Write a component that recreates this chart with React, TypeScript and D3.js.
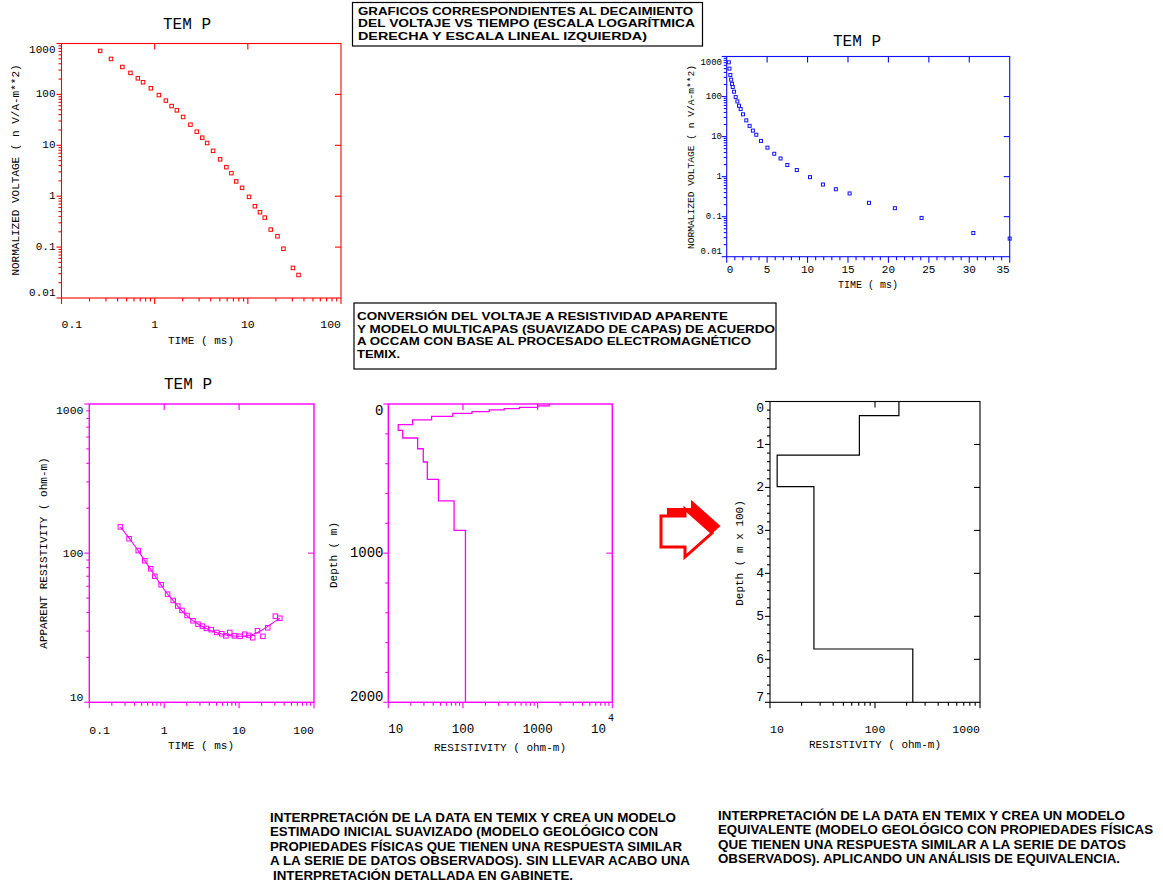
import * as d3 from 'd3';
import React, { useEffect, useRef } from 'react';

// sounding data (same gates for every panel)
const timeMs = [0.26, 0.34, 0.45, 0.55, 0.66, 0.75, 0.91, 1.11, 1.32, 1.52, 1.73, 2.02, 2.42, 2.83, 3.24, 3.66, 4.24, 5.04, 5.88, 6.66, 7.5, 8.67, 10.3, 11.9, 13.5, 15.2, 17.6, 20.8, 24.1, 30.5, 35.0];
const voltage = [715, 498, 346, 264, 207, 173, 132, 97, 75.5, 59, 48.6, 36, 25.4, 18.5, 14.1, 11.1, 7.8, 5.3, 3.72, 2.84, 1.95, 1.46, 0.97, 0.635, 0.484, 0.38, 0.221, 0.163, 0.093, 0.039, 0.0283];
const apparentRes = [150, 125, 104, 89, 78.6, 70, 61.4, 53.1, 48.2, 44.2, 41.3, 38.2, 35.2, 33.4, 32.4, 31.3, 30.7, 29.4, 28.8, 27.9, 29.4, 27.9, 27.7, 28.6, 28.1, 27.1, 30.2, 27.7, 31.6, 37.8, 36.6];
const apparentResFit = [150, 126, 104, 89, 78, 70.5, 61, 53, 48, 44, 41, 38, 35.3, 33.5, 32.2, 31.2, 30.2, 29.3, 28.7, 28.3, 28.0, 27.8, 27.7, 27.8, 28.1, 28.5, 29.4, 30.8, 32.3, 35, 36.6];

// occam smooth model (ohm-m, layer bottom in m)
const smoothRes = [1430, 1000, 570, 357, 225, 132, 73, 38, 21.2, 13.6, 15.6, 24.7, 29.4, 33.3, 47, 76, 108];
const smoothBottom = [13, 22, 31, 40, 51, 63, 83, 107, 138, 177, 228, 300, 389, 505, 650, 847, 2000];

// equivalent layered model (ohm-m, layer bottom in m x 100)
const equivRes = [169, 71, 11.7, 26.2, 229];
const equivBottom = [0.33, 1.25, 1.98, 5.76, 7];

const logTimeLabels = ['0.1', '1', '10', '100'];
const voltageLabels = ['0.01', '0.1', '1', '10', '100', '1000'];
const linTimeLabels = ['0', '5', '10', '15', '20', '25', '30', '35'];
const appResLabels = ['10', '100', '1000'];
const resLabels = ['10', '100', '1000'];
const depthLabels = ['0', '1000', '2000'];
const depth100Labels = ['0', '1', '2', '3', '4', '5', '6', '7'];

const topNote = ['GRAFICOS CORRESPONDIENTES AL DECAIMIENTO', 'DEL VOLTAJE VS TIEMPO (ESCALA LOGARÍTMICA', 'DERECHA Y ESCALA LINEAL IZQUIERDA)'];
const midNote = ['CONVERSIÓN DEL VOLTAJE A RESISTIVIDAD APARENTE', 'Y MODELO MULTICAPAS (SUAVIZADO DE CAPAS) DE ACUERDO', 'A OCCAM CON BASE AL PROCESADO ELECTROMAGNÉTICO', 'TEMIX.'];
const leftNote = ['INTERPRETACIÓN DE LA DATA EN TEMIX Y CREA UN MODELO', 'ESTIMADO INICIAL SUAVIZADO (MODELO GEOLÓGICO CON', 'PROPIEDADES FÍSICAS QUE TIENEN UNA RESPUESTA SIMILAR', 'A LA SERIE DE DATOS OBSERVADOS). SIN LLEVAR ACABO UNA', 'INTERPRETACIÓN DETALLADA EN GABINETE.'];
const rightNote = ['INTERPRETACIÓN DE LA DATA EN TEMIX Y CREA UN MODELO', 'EQUIVALENTE (MODELO GEOLÓGICO CON PROPIEDADES FÍSICAS', 'QUE TIENEN UNA RESPUESTA SIMILAR A LA SERIE DE DATOS', 'OBSERVADOS). APLICANDO UN ANÁLISIS DE EQUIVALENCIA.'];
const topNoteWidths = [335, 337, 289];
const midNoteWidths = [371, 418, 394, 43];
const leftNoteWidths = [406, 388, 412, 420, 300];
const rightNoteWidths = [407, 435, 408, 402];

const W = 1163;
const H = 888;
const MONO = "'Liberation Mono', 'DejaVu Sans Mono', monospace";
const SANS = "'Liberation Sans', Arial, sans-serif";
const NARROW = "'Liberation Sans Narrow', 'Liberation Sans', Arial, sans-serif";
const RED = '#ff0000';
const BLUE = '#1010ff';
const MAG = '#ff00ff';

type G = d3.Selection<SVGGElement, unknown, null, undefined>;
type Scale = d3.ScaleContinuousNumeric<number, number>;

const isDecade = (v: number) => Math.abs(Math.log10(v) - Math.round(Math.log10(v))) < 1e-6;
const ext = (s: Scale) => { const r = s.range(); return [Math.min(r[0], r[1]), Math.max(r[0], r[1])]; };

function frame(g: G, x: Scale, y: Scale, color: string, sw = 1.2) {
  const [x0, x1] = ext(x);
  const [y0, y1] = ext(y);
  g.append('rect').attr('x', x0).attr('y', y0).attr('width', x1 - x0).attr('height', y1 - y0)
    .attr('fill', 'none').attr('stroke', color).attr('stroke-width', sw);
}

function ticks(g: G, x: Scale, y: Scale, color: string, opt: {
  bottom: number[]; bottomMajor: (v: number) => boolean; top: number[];
  left: number[]; leftMajor: (v: number) => boolean; right: number[];
}) {
  const [x0, x1] = ext(x);
  const [y0, y1] = ext(y);
  const ln = (a: number, b: number, c: number, d: number) =>
    g.append('line').attr('x1', a).attr('y1', b).attr('x2', c).attr('y2', d).attr('stroke', color).attr('stroke-width', 1.1);
  opt.bottom.forEach(v => ln(x(v), y1, x(v), y1 + (opt.bottomMajor(v) ? 6 : 3.5)));
  opt.top.forEach(v => ln(x(v), y0, x(v), y0 + 6));
  opt.left.forEach(v => ln(x0, y(v), x0 - (opt.leftMajor(v) ? 5 : 3), y(v)));
  opt.right.forEach(v => ln(x1, y(v), x1 - 6, y(v)));
}

function txt(g: G, x: number, y: number, s: string, size: number, anchor = 'middle', family = MONO) {
  return g.append('text').attr('x', x).attr('y', y).attr('font-size', size).attr('font-family', family)
    .attr('text-anchor', anchor).attr('dominant-baseline', 'central').attr('fill', '#000').text(s);
}

function vtxt(g: G, x: number, y: number, s: string, size: number) {
  g.append('text').attr('transform', `translate(${x},${y}) rotate(-90)`).attr('font-size', size)
    .attr('font-family', MONO).attr('text-anchor', 'middle').attr('dominant-baseline', 'central').text(s);
}

function xLabels(g: G, x: Scale, yPos: number, labels: string[], size: number) {
  const [x0, x1] = ext(x);
  labels.forEach(l => {
    const w = l.length * size * 0.602;
    const px = Math.max(x0 + w / 2, Math.min(x1 - w / 2, x(+l)));
    txt(g, px, yPos, l, size);
  });
}

function yLabels(g: G, y: Scale, xPos: number, labels: string[], size: number) {
  const [y0, y1] = ext(y);
  labels.forEach(l => {
    const py = Math.max(y0 + 6.5, Math.min(y1 - 5, y(+l)));
    txt(g, xPos, py, l, size, 'end');
  });
}

function squares(g: G, x: Scale, y: Scale, xs: number[], ys: number[], s: number, color: string) {
  g.selectAll(null).data(xs).enter().append('rect')
    .attr('x', d => x(d) - s / 2).attr('y', (d, i) => y(ys[i]) - s / 2)
    .attr('width', s).attr('height', s).attr('fill', 'none').attr('stroke', color).attr('stroke-width', 1);
}

function stepPoints(res: number[], bottoms: number[]): [number, number][] {
  const pts: [number, number][] = [];
  let top = 0;
  res.forEach((r, i) => { pts.push([r, top], [r, bottoms[i]]); top = bottoms[i]; });
  return pts;
}

function note(g: G, x: number, y0: number, dy: number, lines: string[], size: number, widths: number[], family = SANS) {
  lines.forEach((l, i) => {
    g.append('text').attr('x', x).attr('y', y0 + i * dy).attr('font-size', size)
      .attr('font-family', family).attr('font-weight', 'bold').attr('fill', '#000')
      .attr('textLength', widths[i]).attr('lengthAdjust', 'spacingAndGlyphs').text(l);
  });
}

const App: React.FC = () => {
  const svgRef = useRef<SVGSVGElement | null>(null);

  useEffect(() => {
    if (!svgRef.current) return;
    const svg = d3.select(svgRef.current);
    svg.selectAll('*').remove();
    svg.append('rect').attr('width', W).attr('height', H).attr('fill', '#fff');
    const root = svg.append('g') as unknown as G;

    // --- panel A: voltage vs time, log-log
    const gA = root.append('g');
    const xA = d3.scaleLog().domain([0.1, 100]).range([61.5, 341]);
    const yA = d3.scaleLog().domain([0.01, 1000]).range([298, 43.5]);
    frame(gA, xA, yA, RED, 1.1);
    ticks(gA, xA, yA, RED, {
      bottom: xA.ticks(), bottomMajor: isDecade, top: [1, 10],
      left: yA.ticks(), leftMajor: isDecade, right: [0.1, 1, 10, 100],
    });
    xLabels(gA, xA, 324, logTimeLabels, 11.5);
    yLabels(gA, yA, 55.5, voltageLabels, 11);
    txt(gA, 187, 25, 'TEM P', 16);
    txt(gA, 201, 341, 'TIME ( ms)', 11);
    vtxt(gA, 16, 170, 'NORMALIZED VOLTAGE ( n V/A-m**2)', 11);
    squares(gA, xA, yA, timeMs, voltage, 3.5, RED);

    // --- panel B: voltage vs time, linear time
    const gB = root.append('g');
    const xB = d3.scaleLinear().domain([0, 35]).range([726.7, 1009.7]);
    const yB = d3.scaleLog().domain([0.01, 1000]).range([256.7, 56.5]);
    frame(gB, xB, yB, BLUE, 1.1);
    ticks(gB, xB, yB, BLUE, {
      bottom: d3.range(0, 36), bottomMajor: v => v % 5 === 0, top: [5, 10, 15, 20, 25, 30],
      left: yB.ticks(), leftMajor: isDecade, right: [0.1, 1, 10, 100],
    });
    xLabels(gB, xB, 270, linTimeLabels, 11);
    yLabels(gB, yB, 722, voltageLabels, 9);
    txt(gB, 857, 42, 'TEM P', 16);
    txt(gB, 868, 285, 'TIME ( ms)', 10);
    vtxt(gB, 691, 157, 'NORMALIZED VOLTAGE ( n V/A-m**2)', 9.6);
    squares(gB, xB, yB, timeMs, voltage, 3, BLUE);

    // --- panel C: apparent resistivity
    const gC = root.append('g');
    const xC = d3.scaleLog().domain([0.1, 100]).range([89.3, 314]);
    const yC = d3.scaleLog().domain([10, 1000]).range([702.3, 404]);
    frame(gC, xC, yC, MAG, 1.4);
    ticks(gC, xC, yC, MAG, {
      bottom: xC.ticks(), bottomMajor: isDecade, top: [1, 10],
      left: yC.ticks(), leftMajor: isDecade, right: [100],
    });
    xLabels(gC, xC, 730, logTimeLabels, 11.5);
    yLabels(gC, yC, 83.5, appResLabels, 11.5);
    txt(gC, 188, 385, 'TEM P', 16);
    txt(gC, 201, 746, 'TIME ( ms)', 11);
    vtxt(gC, 43.5, 553, 'APPARENT RESISTIVITY ( ohm-m)', 11);
    const fitLine = d3.line<number>().x(d => xC(d)).y((d, i) => yC(apparentResFit[i])).curve(d3.curveMonotoneX);
    gC.append('path').attr('d', fitLine(timeMs)).attr('fill', 'none').attr('stroke', MAG).attr('stroke-width', 1.1);
    squares(gC, xC, yC, timeMs, apparentRes, 4.5, MAG);

    // --- panel D: smooth occam model
    const gD = root.append('g');
    const xD = d3.scaleLog().domain([10, 10000]).range([388.3, 612.3]);
    const yD = d3.scaleLinear().domain([0, 2000]).range([404, 702.3]);
    frame(gD, xD, yD, MAG, 1.4);
    ticks(gD, xD, yD, MAG, {
      bottom: xD.ticks(), bottomMajor: isDecade, top: [100, 1000],
      left: d3.range(0, 2001, 200), leftMajor: v => v % 1000 === 0, right: [1000],
    });
    xLabels(gD, xD, 730, resLabels, 12.5);
    txt(gD, 606, 730, '10', 12.5, 'end');
    txt(gD, 608, 718, '4', 10, 'start');
    yLabels(gD, yD, 383.5, depthLabels, 14);
    txt(gD, 500, 748, 'RESISTIVITY ( ohm-m)', 11);
    vtxt(gD, 333.5, 555, 'Depth ( m)', 11);
    const stepLine = d3.line<[number, number]>().x(d => xD(d[0])).y(d => yD(d[1]));
    gD.append('path').attr('d', stepLine(stepPoints(smoothRes, smoothBottom)))
      .attr('fill', 'none').attr('stroke', MAG).attr('stroke-width', 1.3);

    // --- panel E: equivalent model
    const gE = root.append('g');
    const xE = d3.scaleLog().domain([10, 1000]).range([770, 980]);
    const yE = d3.scaleLinear().domain([0, 7]).range([401.5, 702.3]);
    frame(gE, xE, yE, '#000', 1.1);
    ticks(gE, xE, yE, '#000', {
      bottom: xE.ticks(), bottomMajor: isDecade, top: [100],
      left: d3.range(0, 36).map(i => i / 5), leftMajor: v => Math.abs(v - Math.round(v)) < 1e-6, right: [1, 2, 3, 4, 5, 6],
    });
    xLabels(gE, xE, 729, resLabels, 11.5);
    yLabels(gE, yE, 764, depth100Labels, 13);
    txt(gE, 875, 745, 'RESISTIVITY ( ohm-m)', 11);
    vtxt(gE, 740, 553, 'Depth ( m x 100)', 11);
    const stepE = d3.line<[number, number]>().x(d => xE(d[0])).y(d => yE(d[1]));
    gE.append('path').attr('d', stepE(stepPoints(equivRes, equivBottom)))
      .attr('fill', 'none').attr('stroke', '#000').attr('stroke-width', 1.2);

    // --- arrow between model panels
    const gF = root.append('g').attr('transform', 'translate(661,509)');
    const arrow: [number, number][] = [[0, 7], [24, 7], [24, 0], [51, 24], [24, 48], [24, 38], [0, 38]];
    const poly = d3.line<[number, number]>();
    gF.append('path').attr('d', poly(arrow.map(([a, b]) => [a + 7, b - 7]))! + 'Z').attr('fill', RED).attr('stroke', RED).attr('stroke-width', 2);
    gF.append('path').attr('d', poly(arrow)! + 'Z').attr('fill', '#fff').attr('stroke', RED).attr('stroke-width', 3);

    // --- annotation boxes
    const gN = root.append('g');
    gN.append('rect').attr('x', 352.5).attr('y', 2.5).attr('width', 350).attr('height', 43.5)
      .attr('fill', 'none').attr('stroke', '#000').attr('stroke-width', 1.2);
    note(gN, 358, 15, 12.3, topNote, 10.9, topNoteWidths);
    gN.append('rect').attr('x', 354).attr('y', 303).attr('width', 422).attr('height', 66)
      .attr('fill', 'none').attr('stroke', '#000').attr('stroke-width', 1.2);
    note(gN, 357, 320, 12.5, midNote, 11, midNoteWidths);
    note(gN, 270, 821.5, 14.6, leftNote.slice(0, 4), 13, leftNoteWidths.slice(0, 4), NARROW);
    note(gN, 273, 821.5 + 4 * 14.6, 14.6, leftNote.slice(4), 13, leftNoteWidths.slice(4), NARROW);
    note(gN, 718, 819.5, 14.6, rightNote, 13, rightNoteWidths, NARROW);
  }, []);

  return <svg ref={svgRef} width={W} height={H} style={{ position: 'absolute', left: 0, top: 0 }} />;
};

export default App;
